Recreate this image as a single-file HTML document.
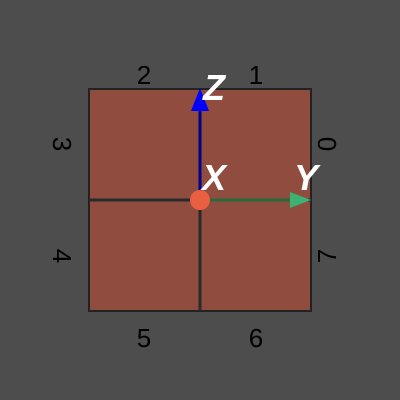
<!DOCTYPE html>
<html><head><style>
html,body{margin:0;padding:0;background:#4d4d4d;}
svg{display:block;}
text{font-family:"Liberation Sans",sans-serif;}
</style></head><body>
<svg width="400" height="400" viewBox="0 0 400 400">
<rect x="0" y="0" width="400" height="400" fill="#4d4d4d"/>
<rect x="89" y="89" width="222" height="222" fill="#8f4c3f" stroke="#222" stroke-width="2"/>
<line x1="89" y1="200" x2="311" y2="200" stroke="#2a2a2a" stroke-width="3"/>
<line x1="200" y1="200" x2="200" y2="311" stroke="#2a2a2a" stroke-width="3"/>
<line x1="200" y1="200" x2="200" y2="108" stroke="#00008b" stroke-width="3"/>
<polygon points="200,88 191,111 209,111" fill="#0000ff"/>
<line x1="200" y1="200" x2="292" y2="200" stroke="#2b6a3c" stroke-width="3"/>
<polygon points="311,200 290,192 290,208" fill="#3cb371"/>
<circle cx="200" cy="200" r="10" fill="#e8603f"/>
<g font-size="36" font-weight="bold" font-style="italic" fill="#fff">
<text x="203" y="100">Z</text>
<text x="202" y="190">X</text>
<text x="294" y="190">Y</text>
</g>
<g font-size="26" fill="#000" text-anchor="middle">
<text x="144" y="84">2</text>
<text x="256" y="84">1</text>
<text x="144" y="347">5</text>
<text x="256" y="347">6</text>
<text transform="translate(53,144) rotate(90)">3</text>
<text transform="translate(53,256) rotate(90)">4</text>
<text transform="translate(336,144) rotate(-90)">0</text>
<text transform="translate(336,256) rotate(-90)">7</text>
</g>
</svg>
</body></html>
